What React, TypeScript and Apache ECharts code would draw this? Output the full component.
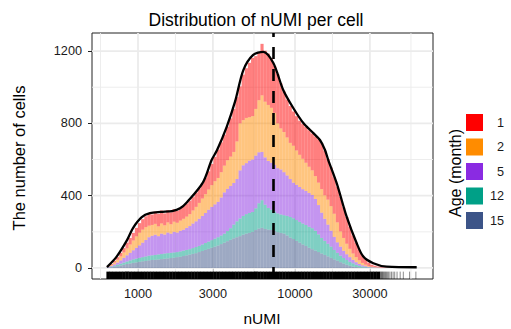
import React, { useEffect, useRef } from "react";
import * as echarts from "echarts";

// ---- data ----
const ageGroups = ["1", "2", "5", "12", "15"];
const ageColors = ["#FF0000", "#FF8C00", "#8A2BE2", "#00A087", "#3C5488"];

// histogram bins on log10(nUMI)
const binStartLog = 2.8;
const binWidthLog = 0.02;

const age15 = [
  2, 4, 7, 10, 14, 18, 22, 25, 28, 31,
  34, 37, 39, 42, 44, 45, 47, 49, 51, 53,
  55, 57, 60, 62, 66, 70, 74, 78, 82, 88,
  94, 100, 106, 112, 118, 124, 132, 140, 148, 156,
  164, 170, 176, 184, 190, 194, 200, 210, 218, 222,
  216, 212, 210, 205, 198, 194, 190, 180, 168, 160,
  150, 140, 130, 122, 112, 104, 96, 88, 80, 72,
  64, 56, 48, 40, 32, 25, 18, 12, 8, 5,
  3, 2, 1, 1, 0, 0, 0, 0, 0, 0,
  0, 0, 0, 0, 0, 0, 0, 0, 1,
];
const age12 = [
  1, 3, 5, 8, 10, 12, 14, 17, 20, 21,
  22, 23, 25, 26, 26, 27, 28, 28, 29, 29,
  29, 29, 28, 30, 30, 30, 30, 32, 34, 34,
  36, 38, 40, 42, 44, 46, 48, 50, 56, 64,
  76, 88, 98, 104, 108, 110, 110, 120, 140, 153,
  134, 120, 112, 107, 104, 102, 102, 108, 114, 115,
  115, 115, 116, 116, 116, 116, 110, 98, 86, 78,
  70, 62, 52, 44, 36, 30, 26, 22, 18, 13,
  9, 6, 4, 2, 2, 1, 1, 0, 0, 0,
  0, 0, 0, 0, 0, 0, 0, 0, 0,
];
const age5 = [
  2, 4, 8, 12, 18, 26, 34, 42, 50, 60,
  69, 80, 91, 102, 108, 112, 101, 113, 105, 114,
  106, 114, 108, 114, 116, 122, 128, 136, 142, 150,
  158, 166, 176, 184, 190, 196, 210, 228, 234, 234,
  230, 234, 266, 280, 282, 290, 290, 292, 282, 267,
  262, 260, 260, 258, 250, 249, 238, 224, 210, 197,
  195, 193, 190, 188, 187, 184, 176, 162, 140, 122,
  106, 88, 72, 58, 50, 40, 32, 26, 19, 14,
  10, 7, 5, 3, 2, 2, 1, 1, 1, 0,
  0, 0, 0, 0, 0, 0, 0, 0, 0,
];
const age2 = [
  3, 6, 10, 16, 22, 30, 38, 46, 54, 63,
  70, 72, 71, 64, 60, 60, 54, 56, 51, 56,
  52, 56, 54, 56, 60, 62, 66, 72, 80, 88,
  96, 104, 112, 120, 128, 132, 140, 148, 158, 162,
  172, 208, 260, 250, 250, 240, 240, 258, 288, 313,
  308, 310, 304, 288, 248, 227, 222, 210, 200, 204,
  190, 178, 168, 156, 145, 136, 126, 124, 130, 130,
  138, 136, 128, 110, 84, 71, 58, 46, 35, 28,
  20, 13, 8, 5, 3, 2, 1, 1, 0, 1,
  1, 0, 0, 0, 0, 0, 0, 0, 0,
];
const age1 = [
  2, 5, 10, 14, 20, 24, 32, 36, 42, 47,
  53, 58, 60, 66, 58, 68, 70, 72, 66, 68,
  66, 69, 66, 70, 70, 72, 74, 74, 78, 80,
  84, 92, 101, 117, 135, 157, 165, 172, 186, 212,
  238, 245, 205, 252, 275, 301, 322, 292, 264, 285,
  282, 284, 274, 260, 272, 250, 224, 210, 204, 190,
  190, 189, 192, 198, 202, 204, 220, 240, 254, 248,
  224, 214, 202, 198, 192, 170, 148, 122, 100, 80,
  58, 42, 30, 19, 11, 7, 5, 3, 3, 2,
  1, 2, 1, 1, 1, 0, 1, 0, 0,
];

// density curve (scaled to counts), x in log10(nUMI)
const densityLog = [
  2.8025, 2.864, 2.93, 2.968, 3.024, 3.076, 3.146, 3.217, 3.268, 3.312,
  3.414, 3.469, 3.503, 3.565, 3.618, 3.671, 3.732, 3.798, 3.862, 3.925,
  3.989, 4.053, 4.117, 4.159, 4.191, 4.212, 4.266, 4.329, 4.393, 4.435,
  4.499, 4.584, 4.775,
];
const densityCount = [
  5, 63, 154, 221, 281, 303, 310, 315, 330, 364,
  474, 597, 651, 781, 920, 1095, 1178, 1196, 1134, 985,
  885, 802, 746, 708, 653, 597, 468, 284, 137, 63,
  26, 7, 4,
];

const medianNUMI = 7280;

const xTicks = [1000, 3000, 10000, 30000];
const xMinor = [577, 1732, 5477, 17321, 54772];
const yTicks = [0, 400, 800, 1200];
const yMinor = [200, 600, 1000];

const FONT = '"Liberation Sans", Arial, Helvetica, sans-serif';

function rgba(hex: string, a: number) {
  const n = parseInt(hex.slice(1), 16);
  return `rgba(${(n >> 16) & 255},${(n >> 8) & 255},${n & 255},${a})`;
}

export default function App() {
  const ref = useRef<HTMLDivElement>(null);
  useEffect(() => {
    const chart = echarts.init(ref.current!, null, { renderer: "svg" });
    const counts: Record<string, number[]> = { "1": age1, "2": age2, "5": age5, "12": age12, "15": age15 };
    const nBins = age1.length;
    const cum = new Array(nBins).fill(0);
    const stackOrder = ["15", "12", "5", "2", "1"];
    const barSeries = stackOrder.map((g) => {
      const color = ageColors[ageGroups.indexOf(g)];
      const data = counts[g].map((v, i) => {
        const base = cum[i];
        cum[i] += v;
        const x0 = binStartLog + i * binWidthLog;
        return [x0, x0 + binWidthLog, base, base + v];
      });
      return {
        type: "custom",
        name: g,
        z: 2,
        encode: { x: [0, 1], y: [2, 3] },
        data,
        renderItem: (params: any, api: any) => {
          const b = api.value(2), t = api.value(3);
          if (!(t > b)) return { type: "group", children: [] };
          const p0 = api.coord([api.value(0), t]);
          const p1 = api.coord([api.value(1), b]);
          return {
            type: "rect",
            shape: { x: p0[0], y: p0[1], width: p1[0] - p0[0], height: p1[1] - p0[1] },
            style: { fill: rgba(color, 0.5) },
          };
        },
      };
    });
    const totals = cum.slice();
    const rugData = totals.map((t, i) => {
      const x0 = binStartLog + i * binWidthLog;
      return [x0, x0 + binWidthLog, t];
    });

    const vGrid = [
      ...xTicks.map((v) => [Math.log10(v), 0, 1]),
      ...xMinor.map((v) => [Math.log10(v), 0, 0]),
    ];
    const hGrid = [
      ...yTicks.map((v) => [3, v, 1]),
      ...yMinor.map((v) => [3, v, 0]),
    ];

    const legendItems: any[] = [];
    ageGroups.forEach((g, k) => {
      const y = 114 + k * 24.5;
      legendItems.push({
        type: "rect",
        shape: { x: 466, y, width: 17, height: 17 },
        style: { fill: ageColors[k] },
      });
      legendItems.push({
        type: "text",
        x: 504,
        y: y + 8.5,
        style: { text: g, fontSize: 12.7, fontFamily: FONT, fill: "#1a1a1a", align: "right", verticalAlign: "middle" },
      });
    });

    const option: any = {
      animation: false,
      grid: {
        left: 92,
        right: 78,
        top: 33,
        bottom: 50,
        show: true,
        backgroundColor: "#fff",
        borderColor: "#222",
        borderWidth: 1,
      },
      xAxis: {
        type: "value",
        min: 2.707,
        max: 4.879,
        splitLine: { show: false },
        axisLine: { show: false },
        axisTick: {
          show: true,
          length: 4,
          customValues: xTicks.map((v) => Math.log10(v)),
          lineStyle: { color: "#222", width: 1 },
        },
        axisLabel: {
          customValues: xTicks.map((v) => Math.log10(v)),
          formatter: (v: number) => String(Math.round(Math.pow(10, v))),
          fontSize: 12.7,
          fontFamily: FONT,
          color: "#1a1a1a",
          margin: 8,
        },
      },
      yAxis: {
        type: "value",
        min: -61,
        max: 1300,
        splitLine: { show: false },
        axisLine: { show: false },
        axisTick: {
          show: true,
          length: 4,
          customValues: yTicks,
          lineStyle: { color: "#222", width: 1 },
        },
        axisLabel: {
          customValues: yTicks,
          formatter: (v: number) => String(Math.round(v)),
          fontSize: 12.7,
          fontFamily: FONT,
          color: "#1a1a1a",
          margin: 10,
        },
      },
      series: [
        {
          type: "custom",
          z: 1,
          silent: true,
          encode: { x: 0, y: 1 },
          data: vGrid,
          renderItem: (params: any, api: any) => {
            const cs = params.coordSys;
            const c = api.coord([api.value(0), 0]);
            return {
              type: "line",
              shape: { x1: c[0], y1: cs.y, x2: c[0], y2: cs.y + cs.height },
              style: { stroke: "#EBEBEB", lineWidth: api.value(2) ? 1.8 : 0.9 },
            };
          },
        },
        {
          type: "custom",
          z: 1,
          silent: true,
          encode: { x: 0, y: 1 },
          data: hGrid,
          renderItem: (params: any, api: any) => {
            const cs = params.coordSys;
            const c = api.coord([3, api.value(1)]);
            return {
              type: "line",
              shape: { x1: cs.x, y1: c[1], x2: cs.x + cs.width, y2: c[1] },
              style: { stroke: "#EBEBEB", lineWidth: api.value(2) ? 1.8 : 0.9 },
            };
          },
        },
        ...barSeries,
        {
          type: "custom",
          z: 3,
          silent: true,
          encode: { x: [0, 1], y: 2 },
          data: rugData,
          renderItem: (params: any, api: any) => {
            const cs = params.coordSys;
            const t = api.value(2);
            if (!(t > 0)) return { type: "group", children: [] };
            const p0 = api.coord([api.value(0), 0]);
            const p1 = api.coord([api.value(1), 0]);
            const bottom = cs.y + cs.height;
            const len = cs.height * 0.03;
            if (t >= 6) {
              return {
                type: "rect",
                shape: { x: p0[0] - 0.2, y: bottom - len, width: p1[0] - p0[0] + 0.4, height: len },
                style: { fill: "#000" },
              };
            }
            const children: any[] = [];
            const w = p1[0] - p0[0];
            for (let j = 0; j < t; j++) {
              const x = p0[0] + ((j + 0.5) / t) * w;
              children.push({
                type: "line",
                shape: { x1: x, y1: bottom - len, x2: x, y2: bottom },
                style: { stroke: "rgba(0,0,0,0.45)", lineWidth: 1 },
              });
            }
            return { type: "group", children };
          },
        },
        {
          type: "line",
          z: 4,
          silent: true,
          symbol: "none",
          smooth: 0.3,
          data: densityLog.map((x, i) => [x, densityCount[i]]),
          lineStyle: { color: "#000", width: 2.3 },
          markLine: {
            silent: true,
            symbol: ["none", "none"],
            label: { show: false },
            lineStyle: { color: "#000", width: 2.6, type: [12, 10] },
            data: [{ xAxis: Math.log10(medianNUMI) }],
          },
        },
      ],
      graphic: [
        {
          type: "text",
          x: 256,
          y: 20,
          style: { text: "Distribution of nUMI per cell", fontSize: 17.5, fontFamily: FONT, fill: "#000", align: "center", verticalAlign: "middle" },
        },
        {
          type: "text",
          x: 262,
          y: 318,
          style: { text: "nUMI", fontSize: 15.5, fontFamily: FONT, fill: "#000", align: "center", verticalAlign: "middle" },
        },
        {
          type: "text",
          x: 19,
          y: 158,
          rotation: Math.PI / 2,
          style: { text: "The number of cells", fontSize: 16.5, fontFamily: FONT, fill: "#000", align: "center", verticalAlign: "middle" },
        },
        {
          type: "text",
          x: 455,
          y: 173,
          rotation: Math.PI / 2,
          style: { text: "Age (month)", fontSize: 16, fontFamily: FONT, fill: "#000", align: "center", verticalAlign: "middle" },
        },
        ...legendItems,
      ],
    };
    chart.setOption(option);
    return () => chart.dispose();
  }, []);
  return <div ref={ref} style={{ position: "absolute", left: 0, top: 0, width: 511, height: 329 }} />;
}
